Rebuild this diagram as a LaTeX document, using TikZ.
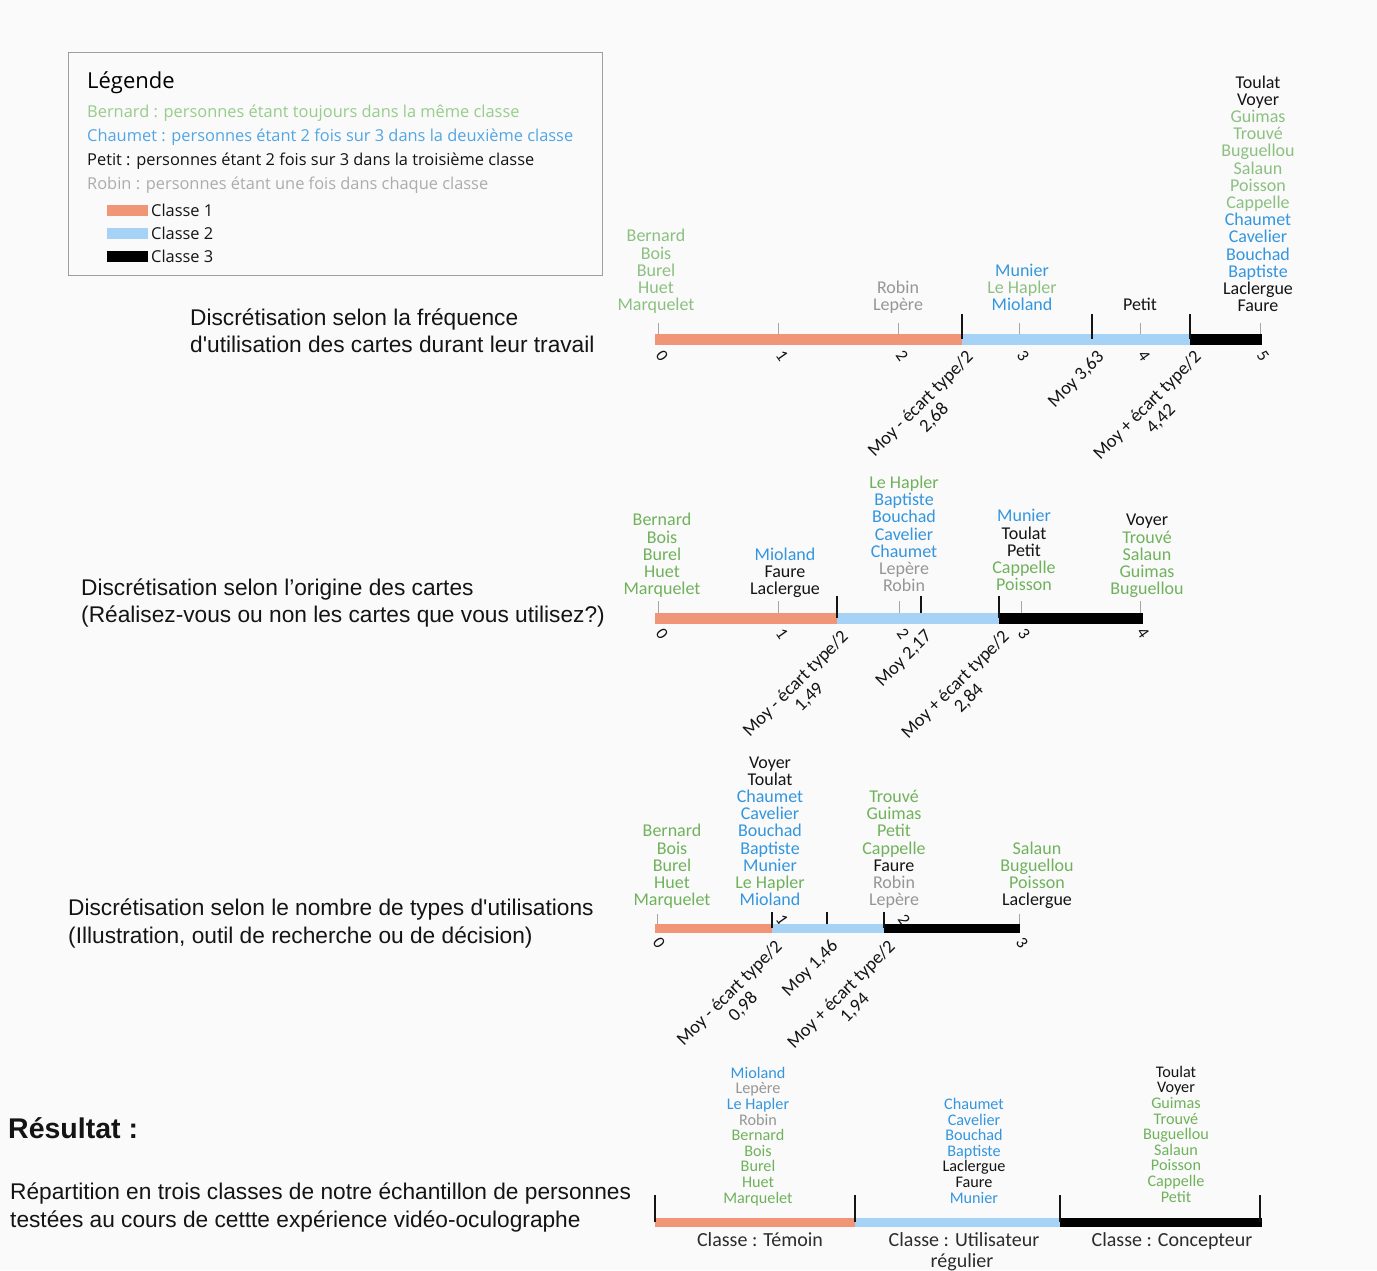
\documentclass[tikz,border=0pt]{standalone}
\usepackage{fontspec}
\setmainfont{Liberation Sans}
\newfontfamily\nomfont{Carlito}
\newfontfamily\legfont{Open Sans}
\usepackage{xcolor}
\usetikzlibrary{calc}

\definecolor{fond}{RGB}{250,250,250}
\definecolor{nomvert}{RGB}{112,178,92}
\definecolor{nomvertclair}{RGB}{140,192,128}
\definecolor{nombleu}{RGB}{52,150,222}
\definecolor{nomgris}{RGB}{150,150,150}
\definecolor{nomnoir}{RGB}{20,20,20}
\definecolor{legvert}{RGB}{150,205,138}
\definecolor{legbleu}{RGB}{82,166,228}
\definecolor{leggris}{RGB}{172,172,172}
\definecolor{classeun}{RGB}{240,150,118}
\definecolor{classedeux}{RGB}{166,210,245}

\newcommand{\nomV}[1]{\textcolor{nomvert}{\strut #1}}
\newcommand{\nomC}[1]{\textcolor{nomvertclair}{\strut #1}}
\newcommand{\nomB}[1]{\textcolor{nombleu}{\strut #1}}
\newcommand{\nomN}[1]{\textcolor{nomnoir}{\strut #1}}
\newcommand{\nomG}[1]{\textcolor{nomgris}{\strut #1}}
\newcommand{\serre}{\lineskiplimit=-100pt\relax\lineskip=0pt\relax}

\tikzset{
  noms/.style={align=center, inner sep=0pt, anchor=south, font=\nomfont\fontsize{18}{17.2}\selectfont\serre},
  nomsres/.style={align=center, inner sep=0pt, anchor=south, font=\nomfont\fontsize{16.2}{15.6}\selectfont\serre},
  moy/.style={align=center, inner sep=0pt, anchor=north east, rotate=45, text=nomnoir, font=\nomfont\fontsize{18.5}{19}\selectfont},
  numero/.style={inner sep=0pt, rotate=-55, text=nomnoir, font=\nomfont\fontsize{17}{17}\selectfont},
  graduation/.style={draw=gray!70, line width=0.6pt},
  borne/.style={draw=nomnoir, line width=1.5pt},
  titre/.style={anchor=base west, inner sep=0pt, text=nomnoir, font=\fontsize{22.7}{26}\selectfont},
  legtexte/.style={anchor=base west, inner sep=0pt, font=\legfont\fontsize{16.4}{19}\selectfont},
  classetexte/.style={anchor=base, inner sep=0pt, text=nomnoir!90, font=\nomfont\fontsize{20}{22}\selectfont}
}

\begin{document}
\begin{tikzpicture}[x=1pt,y=-1pt]
  \fill[fond] (0,0) rectangle (1377,1270);
  \useasboundingbox (0,0) rectangle (1377,1270);

  % legende
  \draw[gray!75, line width=1pt] (68,52) rectangle (602,275);
  \node[anchor=base west, inner sep=0pt, font=\legfont\fontsize{22}{24}\selectfont] (legtitre) at (87,88.5) {Légende};
  \node[legtexte, text=legvert] (legun) at (87,117) {Bernard : personnes étant toujours dans la même classe};
  \node[legtexte, text=legbleu] (legdeux) at (87,141) {Chaumet : personnes étant 2 fois sur 3 dans la deuxième classe};
  \node[legtexte, text=nomnoir] (legtrois) at (87,165) {Petit : personnes étant 2 fois sur 3 dans la troisième classe};
  \node[legtexte, text=leggris] (legquatre) at (87,189) {Robin : personnes étant une fois dans chaque classe};
  \fill[classeun] (107,205) rectangle (148,216);
  \fill[classedeux] (107,228) rectangle (148,239);
  \fill[black] (107,251) rectangle (148,262);
  \node[legtexte, text=nomnoir] (legc1) at (151,216) {Classe 1};
  \node[legtexte, text=nomnoir] (legc2) at (151,239) {Classe 2};
  \node[legtexte, text=nomnoir] (legc3) at (151,262) {Classe 3};

  % titres
  \node[titre] (t1a) at (190,325) {Discrétisation selon la fréquence};
  \node[titre] (t1b) at (190,352.5) {d\textquotesingle utilisation des cartes durant leur travail};
  \node[titre] (t2a) at (81,595) {Discrétisation selon l’origine des cartes};
  \node[titre] (t2b) at (81,622.5) {(Réalisez-vous ou non les cartes que vous utilisez?)};
  \node[titre] (t3a) at (68,915.5) {Discrétisation selon le nombre de types d\textquotesingle utilisations};
  \node[titre] (t3b) at (68,943) {(Illustration, outil de recherche ou de décision)};
  \node[anchor=base west, inner sep=0pt, text=nomnoir, font=\bfseries\fontsize{28.5}{30}\selectfont] (res) at (8,1138) {Résultat :};
  \node[titre] (t4a) at (10,1199.5) {Répartition en trois classes de notre échantillon de personnes};
  \node[titre] (t4b) at (10,1227) {testées au cours de cettte expérience vidéo-oculographe};

  % axe 1 : frequence
  \draw[graduation] (658,323) -- (658,334);
  \draw[graduation] (778,323) -- (778,334);
  \draw[graduation] (898,323) -- (898,334);
  \draw[graduation] (1019,323) -- (1019,334);
  \draw[graduation] (1140,323) -- (1140,334);
  \draw[graduation] (1260,323) -- (1260,334);
  \fill[classeun] (655,333.5) rectangle (962,344.5);
  \fill[classedeux] (962,333.5) rectangle (1190,344.5);
  \fill[black] (1190,333.5) rectangle (1262,344.5);
  \draw[borne] (962,314) -- (962,339);
  \draw[borne] (1092,314) -- (1092,339);
  \draw[borne] (1190,314) -- (1190,339);
  \node[numero] (a1n0) at (662,356) {0};
  \node[numero] (a1n1) at (782,356) {1};
  \node[numero] (a1n2) at (902,356) {2};
  \node[numero] (a1n3) at (1023,356) {3};
  \node[numero] (a1n4) at (1144,356) {4};
  \node[numero] (a1n5) at (1263,356) {5};
  \node[moy] (a1m1) at (965,349) {Moy - écart type/2\\2,68};
  \node[moy] (a1m2) at (1096,349) {Moy 3,63};
  \node[moy] (a1m3) at (1193,349) {Moy + écart type/2\\4,42};
  \node[noms] (a1g1) at (656,316) {\nomC{Bernard}\\\nomC{Bois}\\\nomC{Burel}\\\nomC{Huet}\\\nomC{Marquelet}};
  \node[noms] (a1g2) at (898,316) {\nomG{Robin}\\\nomG{Lepère}};
  \node[noms] (a1g3) at (1022,316) {\nomB{Munier}\\\nomC{Le Hapler}\\\nomB{Mioland}};
  \node[noms] (a1g4) at (1140,316) {\nomN{Petit}};
  \node[noms] (a1g5) at (1258,317) {\nomN{Toulat}\\\nomN{Voyer}\\\nomC{Guimas}\\\nomC{Trouvé}\\\nomC{Buguellou}\\\nomC{Salaun}\\\nomC{Poisson}\\\nomC{Cappelle}\\\nomB{Chaumet}\\\nomB{Cavelier}\\\nomB{Bouchad}\\\nomB{Baptiste}\\\nomN{Laclergue}\\\nomN{Faure}};

  % axe 2 : origine
  \draw[graduation] (658,601) -- (658,613);
  \draw[graduation] (778,601) -- (778,613);
  \draw[graduation] (899,601) -- (899,613);
  \draw[graduation] (1021,601) -- (1021,613);
  \draw[graduation] (1140,601) -- (1140,613);
  \fill[classeun] (655,612.5) rectangle (837,623.5);
  \fill[classedeux] (837,612.5) rectangle (999,623.5);
  \fill[black] (999,612.5) rectangle (1143,623.5);
  \draw[borne] (837,596) -- (837,618);
  \draw[borne] (921,596) -- (921,613);
  \draw[borne] (999,596) -- (999,618);
  \node[numero] (a2n0) at (662,634) {0};
  \node[numero] (a2n1) at (782,634) {1};
  \node[numero] (a2n2) at (903,634) {2};
  \node[numero] (a2n3) at (1024,634) {3};
  \node[numero] (a2n4) at (1143,633) {4};
  \node[moy] (a2m1) at (840,628.5) {Moy - écart type/2\\1,49};
  \node[moy] (a2m2) at (924,628.5) {Moy 2,17};
  \node[moy] (a2m3) at (1001,628.5) {Moy + écart type/2\\2,84};
  \node[noms] (a2g1) at (662,600) {\nomV{Bernard}\\\nomV{Bois}\\\nomV{Burel}\\\nomV{Huet}\\\nomV{Marquelet}};
  \node[noms] (a2g2) at (785,600) {\nomB{Mioland}\\\nomN{Faure}\\\nomN{Laclergue}};
  \node[noms] (a2g3) at (904,597) {\nomV{Le Hapler}\\\nomB{Baptiste}\\\nomB{Bouchad}\\\nomB{Cavelier}\\\nomB{Chaumet}\\\nomG{Lepère}\\\nomG{Robin}};
  \node[noms] (a2g4) at (1024,596) {\nomB{Munier}\\\nomN{Toulat}\\\nomN{Petit}\\\nomV{Cappelle}\\\nomV{Poisson}};
  \node[noms] (a2g5) at (1147,600) {\nomN{Voyer}\\\nomV{Trouvé}\\\nomV{Salaun}\\\nomV{Guimas}\\\nomV{Buguellou}};

  % axe 3 : types d'utilisation
  \draw[graduation] (657,914) -- (657,924);
  \draw[graduation] (1019,914) -- (1019,924);
  \node[numero] (a3n1) at (782,920) {1};
  \node[numero] (a3n2) at (904,920) {2};
  \fill[classeun] (655,924) rectangle (772,933);
  \fill[classedeux] (772,924) rectangle (884,933);
  \fill[black] (884,924) rectangle (1020,933);
  \draw[borne] (772,912) -- (772,928);
  \draw[borne] (827,912) -- (827,924);
  \draw[borne] (884,912) -- (884,928);
  \node[numero] (a3n0) at (659,943) {0};
  \node[numero] (a3n3) at (1022,943) {3};
  \node[moy] (a3m1) at (774,938) {Moy - écart type/2\\0,98};
  \node[moy] (a3m2) at (830,938) {Moy 1,46};
  \node[moy] (a3m3) at (887,938) {Moy + écart type/2\\1,94};
  \node[noms] (a3g1) at (672,911) {\nomV{Bernard}\\\nomV{Bois}\\\nomV{Burel}\\\nomV{Huet}\\\nomV{Marquelet}};
  \node[noms] (a3g2) at (770,911) {\nomN{Voyer}\\\nomN{Toulat}\\\nomB{Chaumet}\\\nomB{Cavelier}\\\nomB{Bouchad}\\\nomB{Baptiste}\\\nomB{Munier}\\\nomV{Le Hapler}\\\nomB{Mioland}};
  \node[noms] (a3g3) at (894,911) {\nomV{Trouvé}\\\nomV{Guimas}\\\nomV{Petit}\\\nomV{Cappelle}\\\nomN{Faure}\\\nomG{Robin}\\\nomG{Lepère}};
  \node[noms] (a3g4) at (1037,911) {\nomV{Salaun}\\\nomV{Buguellou}\\\nomV{Poisson}\\\nomN{Laclergue}};

  % resultat
  \fill[classeun] (655,1218) rectangle (855,1227);
  \fill[classedeux] (855,1218) rectangle (1060,1227);
  \fill[black] (1060,1218) rectangle (1262,1227);
  \draw[borne, line width=1.2pt] (655,1195) -- (655,1222);
  \draw[borne, line width=1.2pt] (855,1195) -- (855,1222);
  \draw[borne, line width=1.2pt] (1060,1195) -- (1060,1222);
  \draw[borne, line width=1.2pt] (1260,1195) -- (1260,1222);
  \node[nomsres] (rg1) at (758,1208) {\nomB{Mioland}\\\nomG{Lepère}\\\nomB{Le Hapler}\\\nomG{Robin}\\\nomV{Bernard}\\\nomV{Bois}\\\nomV{Burel}\\\nomV{Huet}\\\nomV{Marquelet}};
  \node[nomsres] (rg2) at (974,1208) {\nomB{Chaumet}\\\nomB{Cavelier}\\\nomB{Bouchad}\\\nomB{Baptiste}\\\nomN{Laclergue}\\\nomN{Faure}\\\nomB{Munier}};
  \node[nomsres] (rg3) at (1176,1207) {\nomN{Toulat}\\\nomN{Voyer}\\\nomV{Guimas}\\\nomV{Trouvé}\\\nomV{Buguellou}\\\nomV{Salaun}\\\nomV{Poisson}\\\nomV{Cappelle}\\\nomV{Petit}};
  \node[classetexte] (rc1) at (760,1246) {Classe : Témoin};
  \node[classetexte] (rc2) at (964,1246) {Classe : Utilisateur};
  \node[classetexte] (rc2b) at (962,1267) {régulier};
  \node[classetexte] (rc3) at (1172,1246) {Classe : Concepteur};
\end{tikzpicture}
\end{document}
